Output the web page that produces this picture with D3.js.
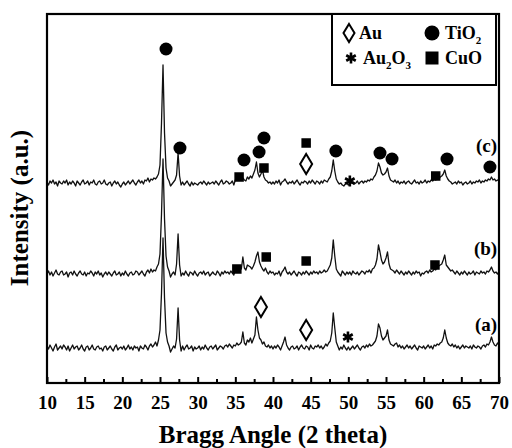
<!DOCTYPE html>
<html><head><meta charset="utf-8">
<script src="https://cdn.jsdelivr.net/npm/d3@7"></script>
<style>body{margin:0;background:#fff}svg{display:block}</style>
</head><body><svg id="c" width="512" height="448"></svg>
<script>
// ---- data ----
const angleStart = 10, angleStep = 0.2;
// intensities (a.u.) relative to each pattern's own baseline, 10..70 deg step 0.2
const traceA = [
 2,-1,3,0,-3,1,4,-2,0,2,
 -1,3,1,-2,2,-3,0,3,-1,1,
 2,-2,0,3,-1,-3,1,2,-2,0,
 3,-1,-2,1,2,-1,0,-3,1,2,
 -2,0,2,-1,-3,1,3,-2,0,1,
 -1,2,-2,0,3,-1,1,-2,2,0,
 1,-3,2,0,-1,3,1,-2,2,4,
 1,3,6,2,8,18,55,110,50,15,
 6,2,-4,-1,2,0,9,40,8,-3,
 2,-2,1,3,-1,0,2,-3,1,-1,
 0,2,-2,1,-1,3,0,-2,1,2,
 -1,1,3,-2,0,2,1,-1,2,3,
 1,4,2,0,3,2,5,3,4,6,
 16,5,3,8,6,10,5,9,13,31,
 18,10,8,4,6,2,1,3,0,2,
 -1,2,0,3,1,-2,2,6,11,3,
 0,-2,1,2,-1,0,2,-2,1,3,
 0,-1,2,1,-2,3,0,-1,2,1,
 3,0,2,-1,1,4,2,5,7,15,
 35,20,6,2,-2,1,-1,3,0,-2,
 1,-2,0,2,-1,1,3,0,-2,1,
 2,0,3,1,4,2,3,5,7,12,
 24,20,12,8,10,12,18,8,4,3,
 2,4,5,1,3,0,2,-1,1,3,
 0,2,-1,1,3,0,-2,2,1,0,
 2,-1,1,3,0,2,-1,3,2,4,
 3,5,6,10,18,10,5,3,2,4,
 1,3,0,2,-1,1,3,0,2,1,
 0,2,-1,3,1,0,2,1,-1,2,
 3,1,4,3,6,11,6,3,2,5,
 3];
const traceB = [
 0,3,-1,2,-2,1,4,0,-1,2,
 3,-1,0,2,-3,1,2,-1,3,0,
 -2,1,3,0,-1,2,-2,1,0,3,
 1,-2,2,0,3,-1,1,-3,0,2,
 -1,2,0,-2,1,3,-1,0,2,-2,
 1,-1,3,0,-2,1,2,-1,0,3,
 2,-1,1,3,0,-2,2,4,1,5,
 2,4,3,7,10,20,60,115,55,18,
 7,3,-3,0,2,-1,10,40,9,-2,
 1,-1,3,0,-2,2,1,-1,3,0,
 -2,1,2,0,3,-1,1,2,-2,0,
 2,0,-1,3,1,-2,2,0,3,1,
 2,0,3,1,-1,4,2,3,6,5,
 17,6,4,9,8,7,5,8,12,18,
 22,12,8,5,3,6,2,0,3,1,
 2,-1,1,0,3,-2,2,4,7,2,
 0,2,-1,1,3,0,-2,2,1,-1,
 2,0,3,1,-1,2,0,3,1,2,
 0,3,1,2,4,2,3,6,9,16,
 34,18,5,2,0,-2,3,1,-1,2,
 0,2,-1,3,1,0,2,-1,1,3,
 2,0,3,2,4,1,5,6,9,15,
 29,22,14,10,12,16,22,10,5,4,
 3,1,4,2,0,3,1,-1,2,0,
 3,1,-1,2,0,3,1,2,-2,1,
 0,2,3,1,4,2,3,5,4,7,
 8,9,10,14,19,9,7,5,3,4,
 2,0,3,1,-1,2,0,3,1,-1,
 2,0,1,3,-1,2,1,0,3,1,
 2,0,3,2,4,7,3,1,2,0,
 2];
const traceC = [
 1,-2,2,0,3,-1,1,-3,2,0,
 -1,2,0,3,-2,1,-1,2,0,-3,
 2,0,-2,1,3,-1,0,2,-2,1,
 0,3,-1,-2,1,2,-1,0,3,-1,
 -2,0,1,-3,0,2,-1,1,-2,-4,
 -1,1,-2,0,2,-1,1,3,0,-2,
 1,3,0,2,-1,3,2,5,1,4,
 3,5,4,6,9,18,60,118,50,15,
 5,2,-3,-1,1,3,8,30,7,-2,
 1,-2,0,2,-1,-3,1,-2,0,-1,
 -2,0,1,-1,2,0,-2,1,-1,0,
 1,-1,2,0,-2,1,3,-1,0,2,
 1,-1,0,2,-2,3,6,4,8,3,
 5,3,2,6,4,7,5,9,13,21,
 10,6,9,13,6,3,2,0,1,-1,
 1,-1,2,0,3,-2,1,2,4,1,
 -1,1,0,2,-1,1,3,0,-2,1,
 0,2,1,-1,2,0,3,1,-1,2,
 1,-1,2,0,3,2,1,4,6,12,
 23,12,4,1,-1,0,-2,-3,-1,0,
 -2,-1,0,1,-1,0,2,-1,1,2,
 0,2,1,3,2,4,3,6,8,12,
 20,16,10,8,9,11,15,7,3,2,
 1,3,0,2,-1,1,0,2,-1,1,
 2,0,-1,1,3,0,1,-1,2,0,
 1,3,0,2,1,3,2,4,3,5,
 4,6,7,9,13,7,4,2,1,-1,
 0,1,-1,2,0,1,-2,0,1,-1,
 0,2,-1,1,0,2,1,3,0,2,
 1,3,2,4,3,6,3,4,2,3,
 2];
const traces = [traceA, traceB, traceC];
const traceOffsets = [35, 109, 200];
const traceLabels = ["(a)", "(b)", "(c)"];
const traceLabelLevels = [59, 135, 238];
const xTickValues = [10,15,20,25,30,35,40,45,50,55,60,65,70];
const xMinorTicks = [12.5,17.5,22.5,27.5,32.5,37.5,42.5,47.5,52.5,57.5,62.5,67.5];
const xTitle = "Bragg Angle (2 theta)";
const yTitle = "Intensity (a.u.)";
// phase markers: type, 2theta, intensity level
const markerType  = ["circle","circle","square","circle","circle","circle","square","square","diamond","star","circle","circle","circle","square","circle","circle",
                     "square","square","square","square",
                     "diamond","diamond","star"];
const markerAngle = [25.8,27.65,35.5,36.15,38.15,38.8,38.8,44.4,44.4,50.2,48.35,54.2,55.8,61.6,63.1,68.8,
                     35.2,39.1,44.4,61.5,
                     38.4,44.4,49.95];
const markerLevel = [334,235,206,223,231,245,215,240,219,202,232,230,224,207,224,216,
                     114,126,122,118,
                     76,53,46];
const legendTypes = ["diamond","circle","star","square"];
const legendNames = [["Au"],["TiO","2"],["Au","2","O","3"],["CuO"]];

// ---- drawing ----
const svg = d3.select("#c");
const W = 512, H = 448;
const m = {l:47, r:13, t:14, b:65};
const x = d3.scaleLinear().domain([10,70]).range([m.l, W-m.r]);
const y = d3.scaleLinear().domain([0,369]).range([H-m.b, m.t]);
const font = "'Liberation Serif','Times New Roman',serif";

// traces
const line = d3.line().x((d,i)=>x(angleStart+angleStep*i));
traces.forEach((tr,k)=>{
  svg.append("path")
    .attr("d", line.y(d=>y(d+traceOffsets[k]))(tr))
    .attr("fill","none").attr("stroke","#111").attr("stroke-width",1.3)
    .attr("stroke-linejoin","round");
  svg.append("text").attr("x", x(69.75)).attr("y", y(traceLabelLevels[k]))
    .attr("dy","0.35em").attr("text-anchor","end")
    .attr("font-family",font).attr("font-weight","bold").attr("font-size",19)
    .text(traceLabels[k]);
});

function drawMarker(g, type, cx, cy, big){
  if(type==="circle"){
    g.append("circle").attr("cx",cx).attr("cy",cy).attr("r", big?7.5:6.5).attr("fill","#000");
  } else if(type==="square"){
    const s = big?13:9.5;
    g.append("rect").attr("x",cx-s/2).attr("y",cy-s/2).attr("width",s).attr("height",s).attr("fill","#000");
  } else if(type==="diamond"){
    const w = big?11:12, h = big?18:20;
    g.append("path").attr("d",`M${cx},${cy-h/2}L${cx+w/2},${cy}L${cx},${cy+h/2}L${cx-w/2},${cy}Z`)
      .attr("fill","#fff").attr("stroke","#000").attr("stroke-width",2);
  } else if(type==="star"){
    const r = 5.5;
    let d = "";
    [90,30,150].forEach(a=>{
      const dx = r*Math.cos(a*Math.PI/180), dy = r*Math.sin(a*Math.PI/180);
      d += `M${cx-dx},${cy-dy}L${cx+dx},${cy+dy}`;
    });
    g.append("path").attr("d",d).attr("stroke","#000").attr("stroke-width",2.6).attr("fill","none");
  }
}
const mg = svg.append("g");
markerType.forEach((t,i)=>drawMarker(mg, t, x(markerAngle[i]), y(markerLevel[i]), false));

// axes
const gx = svg.append("g").attr("transform",`translate(0,${H-m.b})`)
  .call(d3.axisBottom(x).tickValues(xTickValues).tickSizeInner(-6).tickSizeOuter(0).tickPadding(13).tickFormat(d3.format("d")));
gx.select(".domain").remove();
gx.selectAll("line").attr("stroke","#000").attr("stroke-width",2);
gx.selectAll("text").attr("font-family",font).attr("font-weight","bold").attr("font-size",19).attr("fill","#000");
const gm = svg.append("g").attr("transform",`translate(0,${H-m.b})`)
  .call(d3.axisBottom(x).tickValues(xMinorTicks).tickSizeInner(-4).tickSizeOuter(0).tickFormat(""));
gm.select(".domain").remove();
gm.selectAll("line").attr("stroke","#000").attr("stroke-width",2);

// frame
svg.append("rect").attr("x",m.l).attr("y",m.t).attr("width",W-m.r-m.l).attr("height",H-m.b-m.t)
  .attr("fill","none").attr("stroke","#000").attr("stroke-width",2.2);

// titles
svg.append("text").attr("x",(m.l+W-m.r)/2).attr("y",443).attr("text-anchor","middle")
  .attr("font-family",font).attr("font-weight","bold").attr("font-size",25).text(xTitle);
svg.append("text").attr("transform",`translate(28,208) rotate(-90)`).attr("text-anchor","middle")
  .attr("font-family",font).attr("font-weight","bold").attr("font-size",25).text(yTitle);

// legend
const lg = svg.append("g");
lg.append("rect").attr("x",332).attr("y",m.t).attr("width",164).attr("height",71)
  .attr("fill","#fff").attr("stroke","#000").attr("stroke-width",2);
const legPos = [[349,33,359],[432,33,445],[351,58,363],[432,58,445]];
legendTypes.forEach((t,i)=>{
  const [sx,sy,tx] = legPos[i];
  drawMarker(lg, t, sx, sy, true);
  const tt = lg.append("text").attr("x",tx).attr("y",sy).attr("dy","0.35em")
    .attr("font-family",font).attr("font-weight","bold").attr("font-size",18);
  legendNames[i].forEach((s,j)=>{
    const sub = j%2===1;
    tt.append("tspan").attr("font-size", sub?11:18).attr("dy", j===0?null:(sub?5:-5)).text(s);
  });
});
</script>
</body></html>
